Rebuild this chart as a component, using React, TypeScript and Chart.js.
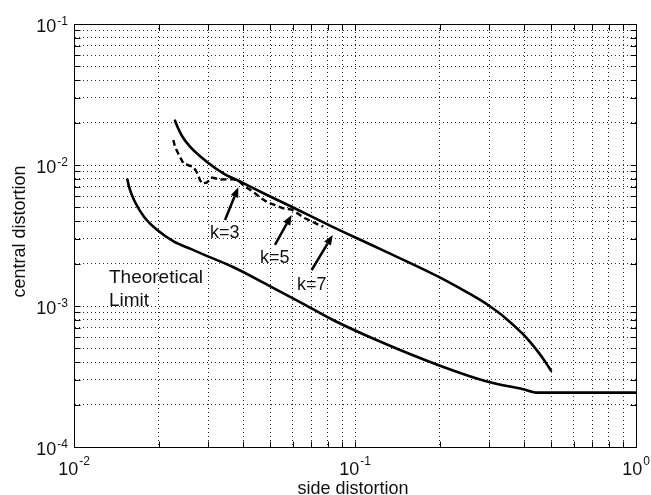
import React, { useEffect, useRef } from "react";
import { Chart, registerables } from "chart.js";

Chart.register(...registerables);

// ---- Data ----
const limitX = [0.01548, 0.01569, 0.01635, 0.01774, 0.01979, 0.0227, 0.02602, 0.0298, 0.03679, 0.04862, 0.06372, 0.0835, 0.1227, 0.1974, 0.2974, 0.3962, 0.4478, 1.0];
const limitY = [7.92e-3, 7.02e-3, 5.65e-3, 4.3e-3, 3.46e-3, 2.86e-3, 2.54e-3, 2.26e-3, 1.89e-3, 1.42e-3, 1.067e-3, 7.96e-4, 5.6e-4, 3.82e-4, 2.9e-4, 2.57e-4, 2.43e-4, 2.43e-4];

const upperX = [0.02288, 0.02345, 0.02423, 0.02587, 0.02967, 0.03399, 0.03897, 0.04783, 0.05871, 0.08147, 0.1227, 0.1979, 0.2364, 0.2673, 0.2974, 0.3418, 0.3962, 0.4196, 0.4553, 0.4783, 0.4982];
const upperY = [2.062e-2, 1.83e-2, 1.606e-2, 1.349e-2, 1.055e-2, 8.73e-3, 7.64e-3, 6.23e-3, 5.12e-3, 3.72e-3, 2.54e-3, 1.614e-3, 1.333e-3, 1.16e-3, 1.016e-3, 8.27e-4, 6.31e-4, 5.56e-4, 4.54e-4, 3.95e-4, 3.48e-4];

const dashedX = [0.02257, 0.02288, 0.02383, 0.02453, 0.02566, 0.02658, 0.02733, 0.02808, 0.02854, 0.02967, 0.03098, 0.03309, 0.03679, 0.03843, 0.0406, 0.04346, 0.04591, 0.04862, 0.05191, 0.05557, 0.05953, 0.06372, 0.0664, 0.06918, 0.07308, 0.07714];
const dashedY = [1.504e-2, 1.342e-2, 1.139e-2, 1.025e-2, 9.92e-3, 9.73e-3, 8.92e-3, 7.83e-3, 7.39e-3, 7.49e-3, 8.15e-3, 7.89e-3, 7.92e-3, 7.77e-3, 7.02e-3, 6.46e-3, 5.88e-3, 5.47e-3, 5.2e-3, 4.93e-3, 4.83e-3, 4.42e-3, 4.19e-3, 4.03e-3, 3.82e-3, 3.65e-3];

// ---- Axes / ticks ----
const xMajorTicks = [0.01, 0.1, 1];
const xTickExponents = ["-2", "-1", "0"];
const yMajorTicks = [1e-4, 1e-3, 1e-2, 1e-1];
const yTickExponents = ["-4", "-3", "-2", "-1"];
const minorMultipliers = [1, 2, 3, 4, 5, 6, 7, 8, 9];
const xTitle = "side distortion";
const yTitle = "central distortion";

// ---- Annotations (data coordinates) ----
const arrowLabels = ["k=3", "k=5", "k=7"];
const arrowTailX = [0.03447, 0.0519, 0.0701];
const arrowTailY = [4.07e-3, 2.71e-3, 1.8e-3];
const arrowHeadX = [0.03843, 0.0595, 0.0833];
const arrowHeadY = [6.95e-3, 4.42e-3, 3.19e-3];
const arrowLabelX = [0.0305, 0.0459, 0.0622];
const arrowLabelY = [3.03e-3, 2.02e-3, 1.3e-3];
const limitLabelLines = ["Theoretical", "Limit"];
const limitLabelX = [0.01332, 0.01332];
const limitLabelY = [1.455e-3, 1.0e-3];

function gridValues(majors: number[]): number[] {
  const out: number[] = [];
  for (let i = 0; i < majors.length - 1; i++) {
    for (const m of minorMultipliers) out.push(m * majors[i]);
  }
  out.push(majors[majors.length - 1]);
  return out;
}

const FONT = '"Liberation Sans", Arial, Helvetica, sans-serif';
const TEXT = "#111";

const overlay = {
  id: "overlay",
  afterDraw(chart: any) {
    const { ctx, chartArea: a, scales } = chart;
    const xs = scales.x;
    const ys = scales.y;
    ctx.save();

    // box
    ctx.strokeStyle = "#000";
    ctx.lineWidth = 1;
    ctx.setLineDash([]);
    const L = Math.round(a.left) + 0.5;
    const R = Math.round(a.right) + 0.5;
    const T = Math.round(a.top) + 0.5;
    const B = Math.round(a.bottom) + 0.5;
    ctx.strokeRect(L, T, R - L, B - T);

    // inward tick marks
    const tl = 6;
    ctx.beginPath();
    for (const v of gridValues(xMajorTicks)) {
      const px = Math.round(xs.getPixelForValue(v)) + 0.5;
      ctx.moveTo(px, B);
      ctx.lineTo(px, B - tl);
      ctx.moveTo(px, T);
      ctx.lineTo(px, T + tl);
    }
    for (const v of gridValues(yMajorTicks)) {
      const py = Math.round(ys.getPixelForValue(v)) + 0.5;
      ctx.moveTo(L, py);
      ctx.lineTo(L + tl, py);
      ctx.moveTo(R, py);
      ctx.lineTo(R - tl, py);
    }
    ctx.stroke();

    ctx.fillStyle = TEXT;
    ctx.textBaseline = "alphabetic";

    // y tick labels 10^k
    yMajorTicks.forEach((v, i) => {
      const py = ys.getPixelForValue(v);
      const rightEdge = a.left - 6;
      ctx.font = `12px ${FONT}`;
      ctx.textAlign = "right";
      const ew = ctx.measureText(yTickExponents[i]).width;
      ctx.fillText(yTickExponents[i], rightEdge, py + 1);
      ctx.font = `18px ${FONT}`;
      ctx.fillText("10", rightEdge - ew - 1, py + 7.5);
    });

    // x tick labels 10^k
    xMajorTicks.forEach((v, i) => {
      const px = xs.getPixelForValue(v);
      ctx.font = `18px ${FONT}`;
      const bw = ctx.measureText("10").width;
      ctx.font = `12px ${FONT}`;
      const ew = ctx.measureText(xTickExponents[i]).width;
      const total = bw + 1 + ew;
      const x0 = px - total / 2;
      ctx.textAlign = "left";
      ctx.font = `18px ${FONT}`;
      ctx.fillText("10", x0, a.bottom + 28);
      ctx.font = `12px ${FONT}`;
      ctx.fillText(xTickExponents[i], x0 + bw + 1, a.bottom + 18);
    });

    // axis titles
    ctx.font = `18px ${FONT}`;
    ctx.textAlign = "center";
    ctx.fillText(xTitle, (a.left + a.right) / 2 - 2, a.bottom + 47);
    ctx.save();
    ctx.translate(25, (a.top + a.bottom) / 2 - 4);
    ctx.rotate(-Math.PI / 2);
    ctx.fillText(yTitle, 0, 0);
    ctx.restore();

    // arrows
    ctx.strokeStyle = "#000";
    ctx.fillStyle = "#000";
    ctx.lineWidth = 2.5;
    ctx.lineCap = "butt";
    arrowLabels.forEach((_, i) => {
      const tx = xs.getPixelForValue(arrowTailX[i]);
      const ty = ys.getPixelForValue(arrowTailY[i]);
      const hx = xs.getPixelForValue(arrowHeadX[i]);
      const hy = ys.getPixelForValue(arrowHeadY[i]);
      const ang = Math.atan2(hy - ty, hx - tx);
      const hl = 10;
      const hw = 4;
      const bx = hx - hl * Math.cos(ang);
      const by = hy - hl * Math.sin(ang);
      ctx.beginPath();
      ctx.moveTo(tx, ty);
      ctx.lineTo(bx, by);
      ctx.stroke();
      ctx.beginPath();
      ctx.moveTo(hx, hy);
      ctx.lineTo(bx + hw * Math.sin(ang), by - hw * Math.cos(ang));
      ctx.lineTo(bx - hw * Math.sin(ang), by + hw * Math.cos(ang));
      ctx.closePath();
      ctx.fill();
    });

    // labels
    ctx.fillStyle = TEXT;
    ctx.textAlign = "left";
    ctx.font = `18px ${FONT}`;
    arrowLabels.forEach((t, i) => {
      ctx.fillText(t, xs.getPixelForValue(arrowLabelX[i]), ys.getPixelForValue(arrowLabelY[i]));
    });
    ctx.font = `19px ${FONT}`;
    limitLabelLines.forEach((t, i) => {
      ctx.fillText(t, xs.getPixelForValue(limitLabelX[i]), ys.getPixelForValue(limitLabelY[i]));
    });

    ctx.restore();
  },
};

export default function App() {
  const ref = useRef<HTMLCanvasElement>(null);
  useEffect(() => {
    const toPts = (xs: number[], ys: number[]) => xs.map((x, i) => ({ x, y: ys[i] }));
    const axisCommon = {
      type: "logarithmic" as const,
      ticks: { display: false },
      grid: { color: "rgba(0,0,0,0.85)", lineWidth: 1, drawTicks: false },
      border: { display: true, color: "#000", width: 1, dash: [1, 3] },
    };
    const chart = new Chart(ref.current as HTMLCanvasElement, {
      type: "scatter",
      data: {
        datasets: [
          {
            label: "Theoretical Limit",
            data: toPts(limitX, limitY),
            showLine: true,
            borderColor: "#000",
            borderWidth: 2.6,
            pointRadius: 0,
            cubicInterpolationMode: "monotone",
            borderCapStyle: "round",
            borderJoinStyle: "round",
          },
          {
            label: "Upper",
            data: toPts(upperX, upperY),
            showLine: true,
            borderColor: "#000",
            borderWidth: 2.6,
            pointRadius: 0,
            cubicInterpolationMode: "monotone",
            borderCapStyle: "round",
            borderJoinStyle: "round",
          },
          {
            label: "Dashed",
            data: toPts(dashedX, dashedY),
            showLine: true,
            borderColor: "#000",
            borderWidth: 2.4,
            borderDash: [6, 3.5],
            pointRadius: 0,
            tension: 0,
          },
        ],
      },
      options: {
        responsive: false,
        maintainAspectRatio: false,
        animation: false,
        layout: { padding: { left: 74, right: 15, top: 24, bottom: 48 } },
        plugins: { legend: { display: false }, tooltip: { enabled: false } },
        scales: {
          x: {
            ...axisCommon,
            min: xMajorTicks[0],
            max: xMajorTicks[xMajorTicks.length - 1],
            afterBuildTicks: (s: any) => {
              s.ticks = gridValues(xMajorTicks).map((v) => ({ value: v }));
            },
          },
          y: {
            ...axisCommon,
            min: yMajorTicks[0],
            max: yMajorTicks[yMajorTicks.length - 1],
            afterBuildTicks: (s: any) => {
              s.ticks = gridValues(yMajorTicks).map((v) => ({ value: v }));
            },
          },
        },
      } as any,
      plugins: [overlay],
    });
    return () => chart.destroy();
  }, []);
  return (
    <div style={{ position: "fixed", left: 0, top: 0, width: 651, height: 495, background: "#fff" }}>
      <canvas ref={ref} width={651} height={495} style={{ display: "block" }} />
    </div>
  );
}
